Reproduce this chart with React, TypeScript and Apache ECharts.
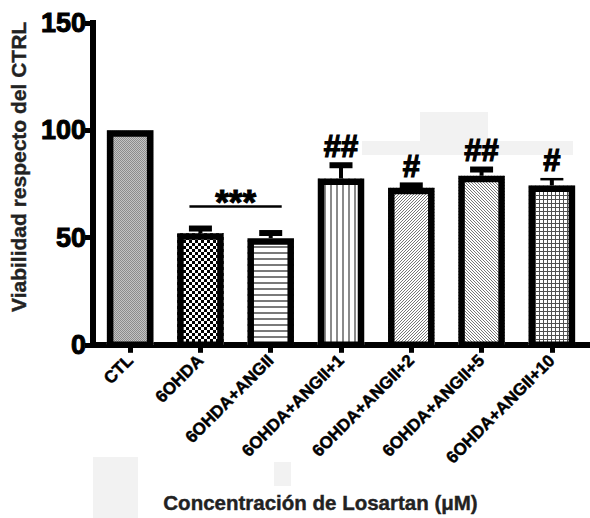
import React, { useEffect, useRef } from 'react';
import * as echarts from 'echarts';

// ---- data ----
const categories = [
  'CTL',
  '6OHDA',
  '6OHDA+ANGII',
  '6OHDA+ANGII+1',
  '6OHDA+ANGII+2',
  '6OHDA+ANGII+5',
  '6OHDA+ANGII+10',
];
const viability = [100, 52.0, 49.7, 77.5, 73.2, 78.8, 74.3];
const errorTop: (number | null)[] = [null, 54.2, 52.1, 83.7, 74.3, 81.7, 77.2];
const significance = ['', '', '', '##', '#', '##', '#'];
const bracketFrom = 1;
const bracketTo = 2;
const bracketValue = 64.5;
const bracketLabel = '***';
const yMin = 0;
const yMax = 150;
const yInterval = 50;

const yTitle = 'Viabilidad respecto del CTRL';
const xTitle = 'Concentración de Losartan (μM)';

// ---- styles ----
const FONT = "'Liberation Sans', Arial, Helvetica, sans-serif";
const BAR_W = 46.5;
const BORDER_W = 6.5;
const capWidth = [6, 6, 6, 6, 6, 6, 2.5];

// base fill colour of each bar (pattern background)
const fills = ['#8c8c8c', '#fff', '#fff', '#fff', '#fff', '#fff', '#505050'];

const decals: any[] = [
  // CTL fine stipple
  {
    symbol: 'rect', symbolSize: 1,
    dashArrayX: [[1, 1], [0, 1, 1, 0]], dashArrayY: [1, 0],
    color: '#c4c4c4',
  },
  // 6OHDA checkerboard
  {
    symbol: 'rect', symbolSize: 1,
    dashArrayX: [[2.5, 2.5], [0, 2.5, 2.5, 0]], dashArrayY: [2.5, 0],
    color: '#000',
  },
  // ANGII horizontal lines
  {
    symbol: 'rect', symbolSize: 1,
    dashArrayX: [1, 0], dashArrayY: [1.8, 3.2],
    color: '#7a7a7a',
  },
  // +1 vertical lines
  {
    symbol: 'rect', symbolSize: 1,
    dashArrayX: [1.5, 3.5], dashArrayY: [1, 0],
    color: '#8a8a8a',
  },
  // +2 diagonal /
  {
    symbol: 'rect', symbolSize: 1,
    dashArrayX: [[0, 2, 1, 0], [0, 1, 1, 1], [1, 2]], dashArrayY: [1, 0],
    color: '#777',
  },
  // +5 diagonal \
  {
    symbol: 'rect', symbolSize: 1,
    dashArrayX: [[1, 2], [0, 1, 1, 1], [0, 2, 1, 0]], dashArrayY: [1, 0],
    color: '#777',
  },
  // +10 grid (white cells over dark fill)
  {
    symbol: 'rect', symbolSize: 1,
    dashArrayX: [3, 1], dashArrayY: [3, 1],
    color: '#fff',
  },
];

export default function App() {
  const ref = useRef<HTMLDivElement>(null);

  useEffect(() => {
    if (!ref.current) return;
    const chart = echarts.init(ref.current, undefined, { renderer: 'svg' });

    const errData = errorTop
      .map((e, i) => (e == null ? null : [i, viability[i], e]))
      .filter((d) => d != null);

    const heavy = (c: string, w: number) => ({ textBorderColor: c, textBorderWidth: w });

    const option: any = {
      animation: false,
      backgroundColor: '#fff',
      graphic: [
        { type: 'rect', z: -1, shape: { x: 93, y: 457, width: 45, height: 61 }, style: { fill: '#f2f2f2' } },
        { type: 'rect', z: -1, shape: { x: 274, y: 462, width: 17, height: 24 }, style: { fill: '#f2f2f2' } },
        { type: 'rect', z: -1, shape: { x: 420, y: 112, width: 68, height: 29 }, style: { fill: '#f2f2f2' } },
        { type: 'rect', z: -1, shape: { x: 362, y: 141, width: 211, height: 14 }, style: { fill: '#f2f2f2' } },
      ],
      grid: { left: 95, right: 3, top: 23, bottom: 165.5, containLabel: false },
      xAxis: {
        type: 'category',
        data: categories,
        name: xTitle,
        nameLocation: 'middle',
        nameGap: 147,
        nameTextStyle: {
          fontFamily: FONT, fontSize: 20.5, fontWeight: 'bold', color: '#222',
          padding: [0, 41, 0, 0], ...heavy('#222', 0.4),
        },
        axisLine: { show: true, lineStyle: { color: '#000', width: 6, cap: 'square' } },
        axisTick: { show: true, alignWithLabel: true, length: 8, lineStyle: { color: '#000', width: 5 } },
        axisLabel: {
          interval: 0, rotate: 45, margin: 13,
          fontFamily: FONT, fontSize: 17, fontWeight: 'bold', color: '#000',
          ...heavy('#000', 0.5),
        },
        splitLine: { show: false },
      },
      yAxis: {
        type: 'value',
        min: yMin,
        max: yMax,
        interval: yInterval,
        offset: 2,
        name: yTitle,
        nameLocation: 'middle',
        nameGap: 61,
        nameTextStyle: {
          fontFamily: FONT, fontSize: 21, fontWeight: 'bold', color: '#222',
          padding: [0, 0, 0, 34], ...heavy('#222', 0.4),
        },
        axisLine: { show: true, lineStyle: { color: '#000', width: 6, cap: 'square' } },
        axisTick: { show: true, length: 8, lineStyle: { color: '#000', width: 5 } },
        axisLabel: {
          margin: 7, fontFamily: FONT, fontSize: 27, fontWeight: 'bold', color: '#000',
          ...heavy('#000', 1),
        },
        splitLine: { show: false },
      },
      series: [
        {
          type: 'bar',
          silent: true,
          barWidth: BAR_W,
          z: 2,
          data: viability.map((v, i) => ({
            value: v,
            itemStyle: { color: fills[i], borderWidth: 0, decal: decals[i] },
          })),
        },
        {
          type: 'custom',
          silent: true,
          z: 3,
          data: viability.map((v, i) => [i, v]),
          renderItem: (params: any, api: any) => {
            const idx = api.value(0);
            const v = api.value(1);
            const top = api.coord([idx, v]);
            const base = api.coord([idx, 0]);
            const hw = BAR_W / 2;
            return {
              type: 'rect',
              shape: {
                x: top[0] - hw + BORDER_W / 2,
                y: top[1] + BORDER_W / 2,
                width: BAR_W - BORDER_W,
                height: base[1] - top[1] - BORDER_W / 2,
              },
              style: { fill: 'none', stroke: '#000', lineWidth: BORDER_W },
            };
          },
        },
        {
          type: 'custom',
          silent: true,
          z: 4,
          data: errData,
          renderItem: (params: any, api: any) => {
            const idx = api.value(0);
            const v = api.value(1);
            const e = api.value(2);
            const pv = api.coord([idx, v]);
            const pe = api.coord([idx, e]);
            const children: any[] = [
              { type: 'line', shape: { x1: pv[0], y1: pv[1], x2: pe[0], y2: pe[1] }, style: { stroke: '#000', lineWidth: 4 } },
              { type: 'line', shape: { x1: pe[0] - 11.5, y1: pe[1], x2: pe[0] + 11.5, y2: pe[1] }, style: { stroke: '#000', lineWidth: capWidth[idx] } },
            ];
            const mark = significance[idx];
            if (mark) {
              children.push({
                type: 'text',
                x: pe[0],
                y: pe[1] - 19,
                style: {
                  text: mark, fontFamily: FONT, fontSize: 31, fontWeight: 'bold',
                  fill: '#000', align: 'center', verticalAlign: 'middle',
                  stroke: '#000', lineWidth: 1.2,
                },
              });
            }
            return { type: 'group', children };
          },
        },
        {
          type: 'custom',
          silent: true,
          z: 4,
          data: [[bracketFrom, bracketValue, bracketTo]],
          renderItem: (params: any, api: any) => {
            const a = api.coord([api.value(0), api.value(1)]);
            const b = api.coord([api.value(2), api.value(1)]);
            return {
              type: 'group',
              children: [
                { type: 'line', shape: { x1: a[0] - 11, y1: a[1], x2: b[0] + 11, y2: b[1] }, style: { stroke: '#000', lineWidth: 2.5 } },
                {
                  type: 'text',
                  x: (a[0] + b[0]) / 2,
                  y: a[1] - 5,
                  style: {
                    text: bracketLabel, fontFamily: FONT, fontSize: 35, fontWeight: 'bold',
                    fill: '#000', align: 'center', verticalAlign: 'middle',
                    stroke: '#000', lineWidth: 1,
                  },
                },
              ],
            };
          },
        },
      ],
    };

    chart.setOption(option);
    return () => chart.dispose();
  }, []);

  return (
    <div
      ref={ref}
      style={{ position: 'fixed', left: 0, top: 0, width: 590, height: 518, background: '#fff' }}
    />
  );
}
